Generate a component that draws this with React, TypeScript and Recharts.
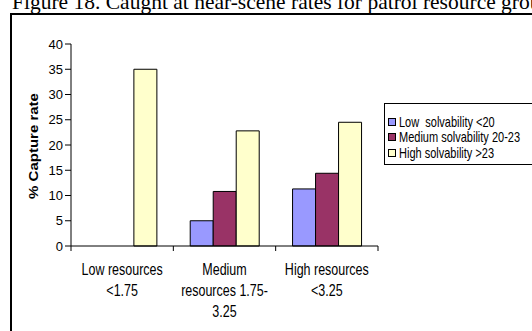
import React from 'react';
import { BarChart, Bar, XAxis, YAxis } from 'recharts';

// resource groups (line breaks as printed under the axis)
const categories = ['Low resources\n<1.75', 'Medium\nresources 1.75-\n3.25', 'High resources\n<3.25'];

// % capture rate per solvability band
const lowSolvability = [0, 5, 11.3];
const mediumSolvability = [0, 10.8, 14.4];
const highSolvability = [35, 22.8, 24.5];

const seriesNames = ['Low  solvability <20', 'Medium solvability 20-23', 'High solvability >23'];
const seriesColors = ['#9999FF', '#993366', '#FFFFCC'];
const yTicks = [0, 5, 10, 15, 20, 25, 30, 35, 40];

const data = categories.map((name, i) => ({
  name,
  low: lowSolvability[i],
  medium: mediumSolvability[i],
  high: highSolvability[i],
}));

const FONT = '"Liberation Sans", Arial, sans-serif';

const CategoryTick = ({ x, y, payload, index }: any) => {
  const half = payload.offset ?? 51;
  const lines: string[] = String(payload.value).split('\n');
  return (
    <g>
      <line x1={x - half} y1={y} x2={x - half} y2={y + 5} stroke="#000" />
      {index === categories.length - 1 && (
        <line x1={x + half} y1={y} x2={x + half} y2={y + 5} stroke="#000" />
      )}
      {lines.map((line, i) => (
        <text
          key={i}
          transform={`translate(${x},${y + 28.5 + i * 21}) scale(1,1.25)`}
          textAnchor="middle"
          fontFamily={FONT}
          fontSize={12.5}
          fill="#000"
        >
          {line}
        </text>
      ))}
    </g>
  );
};

const YTitle = ({ viewBox }: any) => {
  const cy = viewBox.y + viewBox.height / 2 + 1;
  return (
    <text
      transform={`translate(34,${cy}) rotate(-90) scale(1.25,1)`}
      textAnchor="middle"
      dominantBaseline="central"
      fontFamily={FONT}
      fontWeight="bold"
      fontSize={12}
      fill="#000"
    >
      % Capture rate
    </text>
  );
};

const keys = ['low', 'medium', 'high'];

export default function App() {
  return (
    <div
      style={{
        position: 'absolute',
        left: 0,
        top: 0,
        width: 532,
        height: 331,
        overflow: 'hidden',
        background: '#fff',
      }}
    >
      <div
        style={{
          position: 'absolute',
          left: 12,
          top: -9.5,
          fontFamily: '"Liberation Serif", "Times New Roman", serif',
          fontSize: 21.5,
          whiteSpace: 'nowrap',
          lineHeight: '22px',
        }}
      >
        Figure 18. Caught at near-scene rates for patrol resource groups
      </div>
      <div
        style={{
          position: 'absolute',
          left: 10,
          top: 13,
          width: 600,
          height: 400,
          border: '2px solid #000',
        }}
      />
      <div style={{ position: 'absolute', left: 0, top: 0 }}>
        <BarChart
          width={532}
          height={331}
          data={data}
          margin={{ top: 44, right: 154, bottom: 0, left: 0 }}
          barCategoryGap="16.5%"
          barGap={0}
        >
          <XAxis
            dataKey="name"
            height={85}
            axisLine={{ stroke: '#000' }}
            tickLine={false}
            tickSize={0}
            tickMargin={0}
            interval={0}
            tick={<CategoryTick />}
          />
          <YAxis
            width={71}
            domain={[0, 40]}
            ticks={yTicks}
            interval={0}
            axisLine={{ stroke: '#000' }}
            tickLine={{ stroke: '#000' }}
            tickSize={6}
            tickMargin={2}
            tick={{ fontFamily: FONT, fontSize: 13, fill: '#000' }}
            label={<YTitle />}
          />
          {keys.map((k, i) => (
            <Bar
              key={k}
              dataKey={k}
              name={seriesNames[i]}
              fill={seriesColors[i]}
              stroke="#000"
              strokeWidth={1}
              isAnimationActive={false}
            />
          ))}
        </BarChart>
      </div>
      <div
        style={{
          position: 'absolute',
          left: 384,
          top: 103,
          width: 200,
          height: 60,
          border: '1px solid #000',
          fontFamily: FONT,
          fontSize: 11,
        }}
      >
        {seriesNames.map((name, i) => (
          <div
            key={name}
            style={{
              position: 'absolute',
              left: 3,
              top: 12 + i * 15.3,
              height: 12,
              display: 'flex',
              alignItems: 'center',
              whiteSpace: 'pre',
            }}
          >
            <span
              style={{
                display: 'inline-block',
                width: 6,
                height: 6,
                border: '1px solid #000',
                background: seriesColors[i],
                marginRight: 3,
              }}
            />
            <span style={{ display: 'inline-block', transform: 'scaleY(1.25)', lineHeight: '12px' }}>
              {name}
            </span>
          </div>
        ))}
      </div>
    </div>
  );
}
